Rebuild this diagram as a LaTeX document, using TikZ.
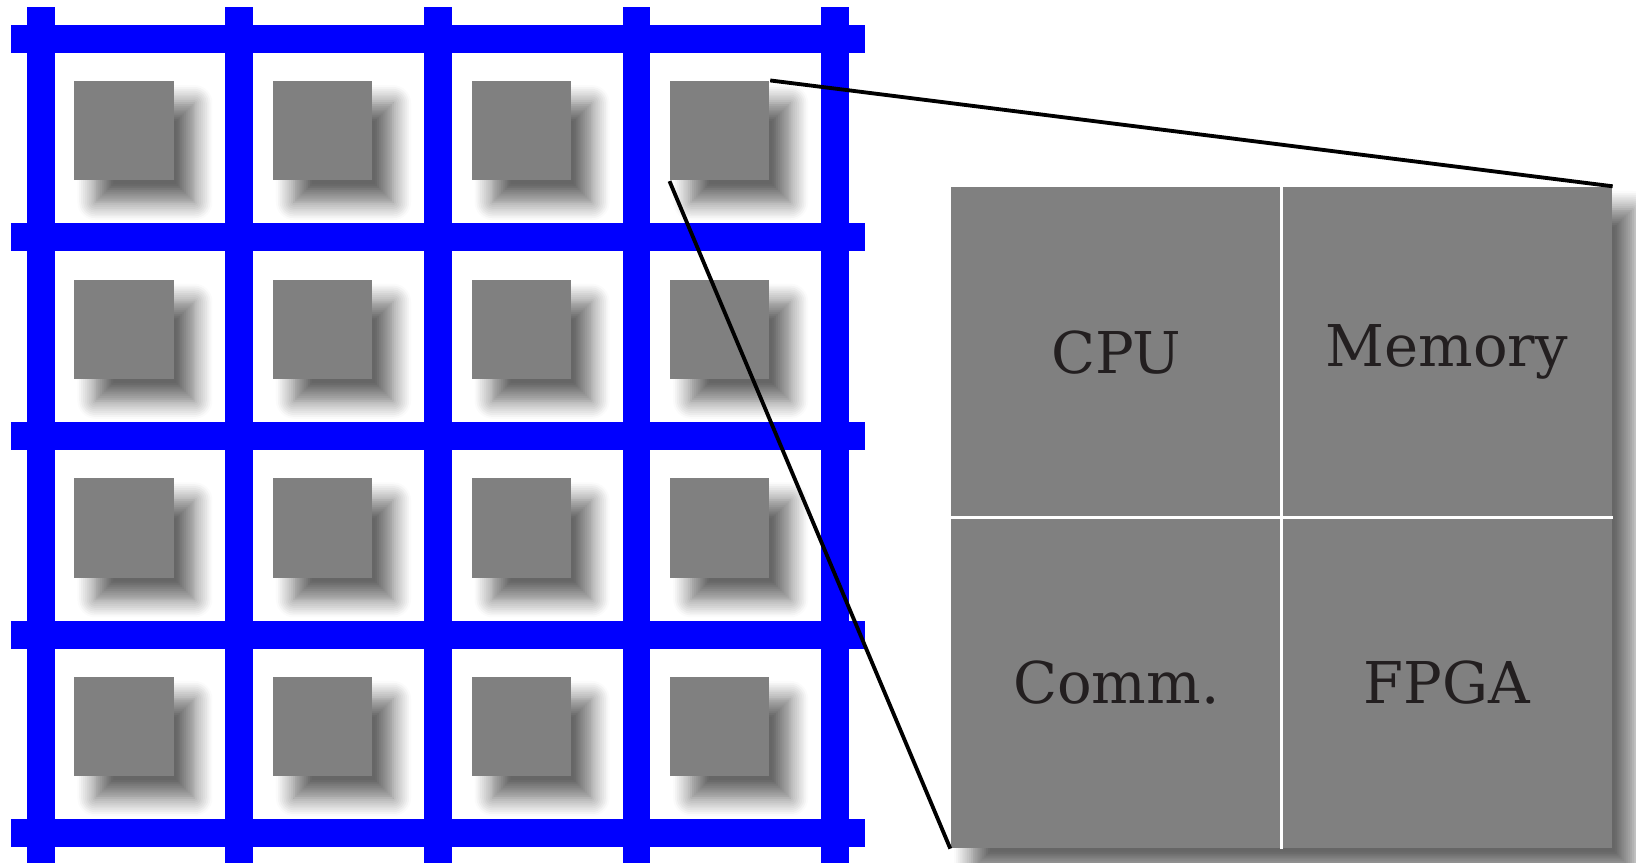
\documentclass[tikz,border=0pt]{standalone}
\usepackage{fontspec}
\setmainfont{DejaVu Serif}
\usetikzlibrary{shadows.blur}
\definecolor{cTextGray}{HTML}{231F20}

\begin{document}
\begin{tikzpicture}[
  busLine/.style={blue,line width=8pt},
  coreBox/.style={fill=gray,minimum size=1cm,inner sep=0pt,anchor=south west,
    blur shadow={shadow xshift=0.21cm,shadow yshift=-0.22cm,
      shadow blur radius=0.18cm,shadow blur steps=10,shadow opacity=60}},
  chipBox/.style={fill=gray,minimum size=6.656cm,inner sep=0pt,
    blur shadow={shadow xshift=0.21cm,shadow yshift=-0.22cm,
      shadow blur radius=0.18cm,shadow blur steps=10,shadow opacity=60}},
  partBox/.style={minimum size=3.328cm,inner sep=0pt,text=cTextGray,
    font=\fontsize{16.5}{20}\selectfont},
  splitLine/.style={white,line width=1.1pt},
  linkLine/.style={black,line width=1.1pt}
]
\useasboundingbox (-0.41,-0.29) rectangle (16.065,8.391);

%畫出藍色的網格
\foreach \k in {0,...,4}{
  \draw[busLine] (2*\k,-0.32) -- (2*\k,8.32);
  \draw[busLine] (-0.3,2*\k) -- (8.3,2*\k);
}

%每一格放一個核心
\foreach \i in {0,...,3}{
  \foreach \j in {0,...,3}{
    \node[coreBox] (nCore-\i-\j) at (2*\i+0.332,2*\j+0.567) {};
  }
}

%放大後的晶片
\node[chipBox] (nChip) at (12.495,3.18) {};
\draw[splitLine] (nChip.north) -- (nChip.south);
\draw[splitLine] (nChip.west) -- (nChip.east);
\node[partBox] (nCPU) at (10.831,4.844) {CPU};
\node[partBox] (nMem) at (14.159,4.844) {Memory};
\node[partBox] (nComm) at (10.831,1.516) {Comm.};
\node[partBox] (nFPGA) at (14.159,1.516) {FPGA};

\draw[linkLine] (nCore-3-3.north east) -- (nChip.north east);
\draw[linkLine] (nCore-3-3.south west) -- (nChip.south west);

\end{tikzpicture}
\end{document}
